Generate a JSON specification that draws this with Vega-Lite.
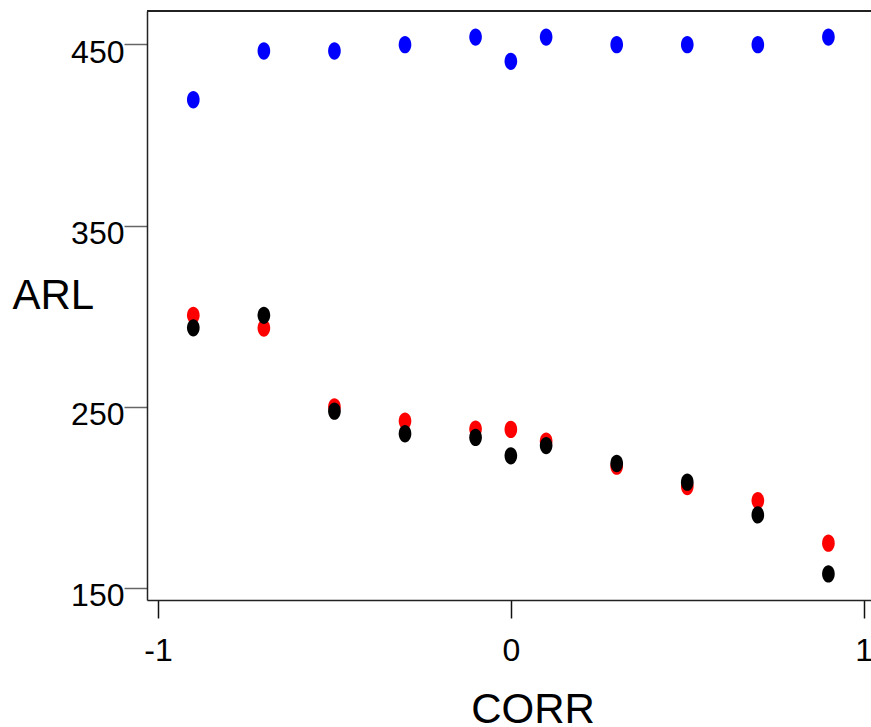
{
  "$schema": "https://vega.github.io/schema/vega-lite/v6.json",
  "autosize": {"type": "none"},
  "padding": {"left": 147, "top": 11, "right": 0, "bottom": 127},
  "width": 724,
  "height": 589,
  "background": "white",
  "config": {
    "view": {"stroke": null},
    "font": "Liberation Sans"
  },
  "data": {
    "values": [
      {"CORR": -0.9, "ARL": 419.5, "series": "A"},
      {"CORR": -0.7, "ARL": 446.4, "series": "A"},
      {"CORR": -0.5, "ARL": 446.4, "series": "A"},
      {"CORR": -0.3, "ARL": 449.9, "series": "A"},
      {"CORR": -0.1, "ARL": 454.1, "series": "A"},
      {"CORR": 0.0, "ARL": 440.7, "series": "A"},
      {"CORR": 0.1, "ARL": 454.1, "series": "A"},
      {"CORR": 0.3, "ARL": 449.9, "series": "A"},
      {"CORR": 0.5, "ARL": 449.9, "series": "A"},
      {"CORR": 0.7, "ARL": 449.9, "series": "A"},
      {"CORR": 0.9, "ARL": 454.1, "series": "A"},
      {"CORR": -0.9, "ARL": 300.4, "series": "B"},
      {"CORR": -0.7, "ARL": 293.4, "series": "B"},
      {"CORR": -0.5, "ARL": 249.9, "series": "B"},
      {"CORR": -0.3, "ARL": 242.0, "series": "B"},
      {"CORR": -0.1, "ARL": 237.6, "series": "B"},
      {"CORR": 0.0, "ARL": 237.4, "series": "B"},
      {"CORR": 0.1, "ARL": 230.9, "series": "B"},
      {"CORR": 0.3, "ARL": 217.1, "series": "B"},
      {"CORR": 0.5, "ARL": 205.9, "series": "B"},
      {"CORR": 0.7, "ARL": 198.1, "series": "B"},
      {"CORR": 0.9, "ARL": 174.6, "series": "B"},
      {"CORR": -0.9, "ARL": 293.5, "series": "C"},
      {"CORR": -0.7, "ARL": 300.4, "series": "C"},
      {"CORR": -0.5, "ARL": 247.5, "series": "C"},
      {"CORR": -0.3, "ARL": 235.0, "series": "C"},
      {"CORR": -0.1, "ARL": 233.0, "series": "C"},
      {"CORR": 0.0, "ARL": 222.8, "series": "C"},
      {"CORR": 0.1, "ARL": 228.5, "series": "C"},
      {"CORR": 0.3, "ARL": 218.6, "series": "C"},
      {"CORR": 0.5, "ARL": 208.3, "series": "C"},
      {"CORR": 0.7, "ARL": 190.2, "series": "C"},
      {"CORR": 0.9, "ARL": 157.6, "series": "C"}
    ]
  },
  "layer": [
    {
      "mark": {"type": "rule", "color": "#222222", "strokeWidth": 1.5},
      "encoding": {"y": {"datum": 468.5, "type": "quantitative"}}
    },
    {
      "mark": {
        "type": "point",
        "filled": true,
        "opacity": 1,
        "size": 300,
        "strokeWidth": 0,
        "shape": "M -0.73,0 A 0.73,1 0 1,0 0.73,0 A 0.73,1 0 1,0 -0.73,0 Z"
      },
      "encoding": {
        "x": {
          "field": "CORR",
          "type": "quantitative",
          "scale": {"domain": [-1.0312, 1.0207], "nice": false, "zero": false},
          "axis": {
            "values": [-1, 0, 1],
            "labelExpr": "'' + datum.value",
            "grid": false,
            "title": "CORR",
            "titleFontSize": 42,
            "titleFontWeight": "normal",
            "titleColor": "black",
            "titleX": 385.5,
            "titleY": 122,
            "titleAlign": "center",
            "titleBaseline": "alphabetic",
            "domainColor": "#222222",
            "domainWidth": 1.5,
            "tickColor": "#111111",
            "tickWidth": 1.5,
            "tickSize": 18,
            "labelFontSize": 32,
            "labelColor": "black",
            "labelPadding": 17,
            "labelBaseline": "top",
            "labelFlush": false,
            "labelOverlap": false
          }
        },
        "y": {
          "field": "ARL",
          "type": "quantitative",
          "scale": {"domain": [143.2, 468.5], "nice": false, "zero": false},
          "axis": {
            "values": [150, 250, 350, 450],
            "grid": false,
            "title": "ARL",
            "titleAngle": 0,
            "titleFontSize": 42,
            "titleFontWeight": "normal",
            "titleColor": "black",
            "titleX": -135,
            "titleY": 297,
            "titleAlign": "left",
            "titleBaseline": "alphabetic",
            "domainColor": "#222222",
            "domainWidth": 1.5,
            "tickColor": "#666666",
            "tickWidth": 1.5,
            "tickSize": 23,
            "labelFontSize": 32,
            "labelColor": "black",
            "labelPadding": 0,
            "labelAlign": "right",
            "labelBaseline": "middle",
            "labelOffset": 8,
            "labelFlush": false,
            "labelOverlap": false
          }
        },
        "color": {
          "field": "series",
          "type": "nominal",
          "scale": {"domain": ["A", "B", "C"], "range": ["#0000FF", "#FF0000", "#000000"]},
          "legend": null
        }
      }
    }
  ]
}
